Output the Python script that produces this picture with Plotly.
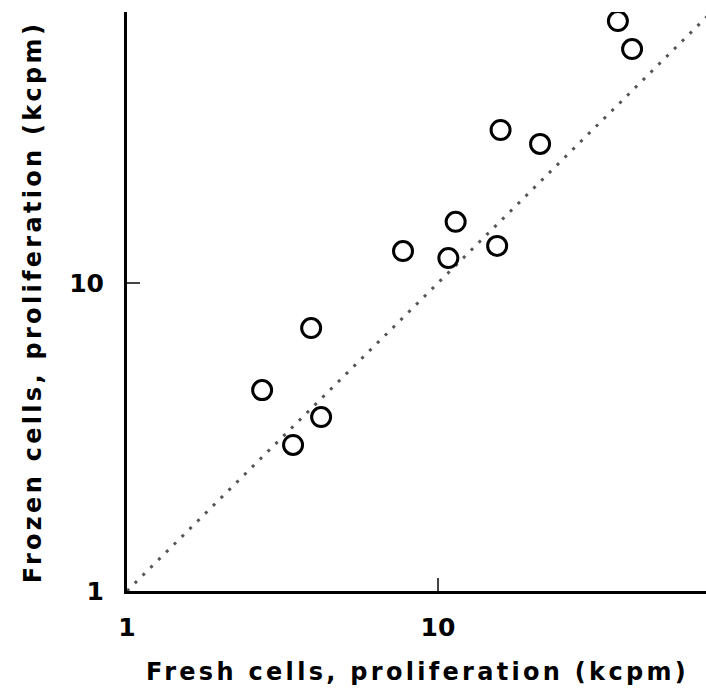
import plotly.graph_objects as go

# Data (kcpm)
fresh = [2.72, 3.91, 3.42, 4.21, 7.72, 10.8, 11.4, 15.5, 15.9, 21.3, 37.9, 42.1]
frozen = [4.49, 7.14, 2.98, 3.67, 12.7, 12.05, 15.8, 13.2, 31.4, 28.3, 70.9, 57.5]
identity = [1, 75]
tick_vals = [1, 10]
tick_text = ["1", "10"]
x_title = "Fresh cells, proliferation (kcpm)"
y_title = "Frozen cells, proliferation (kcpm)"

FONT = "DejaVu Sans"

fig = go.Figure()
fig.add_trace(go.Scatter(
    x=identity, y=identity, mode="lines",
    line=dict(color="#555555", width=3, dash="3px,8px"),
    hoverinfo="skip", showlegend=False))
fig.add_trace(go.Scatter(
    x=fresh, y=frozen, mode="markers",
    marker=dict(symbol="circle-open", size=19, color="black",
                line=dict(color="black", width=3)),
    showlegend=False))

axis_common = dict(
    type="log", showgrid=False, zeroline=False,
    showline=True, linecolor="black", linewidth=3,
    ticks="inside", ticklen=13, tickwidth=1.5, tickcolor="#444",
    tickvals=tick_vals, ticktext=tick_text,
    tickfont=dict(family=FONT, size=25, color="black", weight="bold"),
)
fig.update_xaxes(range=[0, 1.862], ticklabelstandoff=12, **axis_common)
fig.update_yaxes(range=[0, 1.88], ticklabelstandoff=15, **axis_common)

def spaced(t):
    return '<span style="letter-spacing:3.3px">' + t + '</span>'

fig.update_layout(
    width=706, height=696,
    margin=dict(l=127, r=0, t=12, b=105),
    paper_bgcolor="white", plot_bgcolor="white",
    annotations=[
        dict(text=spaced(x_title), xref="paper", yref="paper",
             x=0.501, y=-0.14, xanchor="center", yanchor="middle", showarrow=False,
             font=dict(family=FONT, size=24, color="black", weight="bold")),
        dict(text=spaced(y_title), xref="paper", yref="paper",
             x=-0.162, y=0.499, xanchor="center", yanchor="middle", showarrow=False,
             textangle=-90,
             font=dict(family=FONT, size=24, color="black", weight="bold")),
    ],
)

fig.write_html("out.html")
